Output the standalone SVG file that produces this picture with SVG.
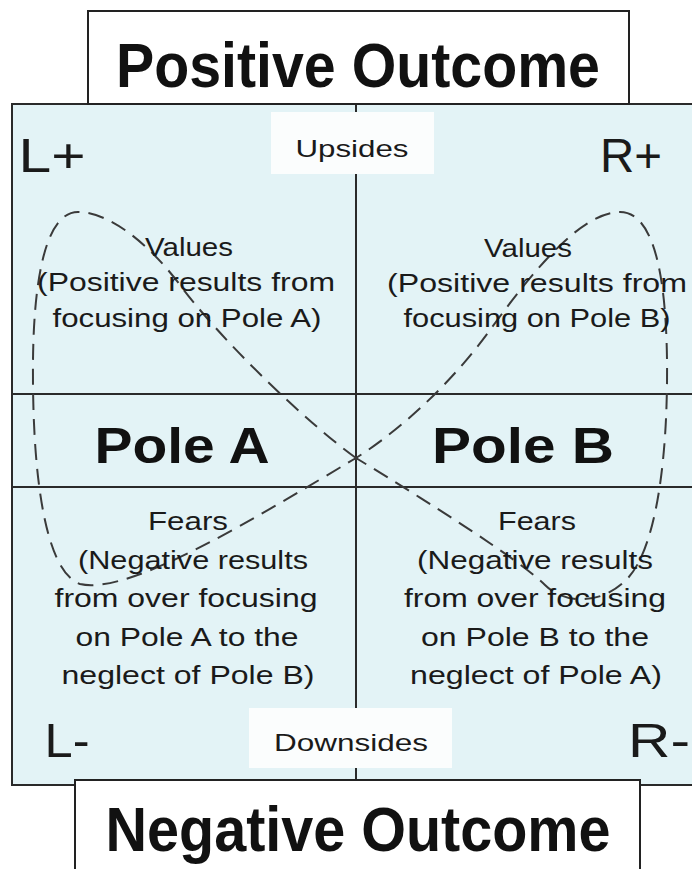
<svg xmlns="http://www.w3.org/2000/svg" width="692" height="869" viewBox="0 0 692 869">
<style>
.t{font-family:"Liberation Sans",Arial,sans-serif;fill:#1a1a1a;text-anchor:middle}
.b{font-weight:bold;fill:#111}
.ln{stroke:#2a2a2a;stroke-width:2;fill:none}
.box{fill:#fff;stroke:#222;stroke-width:2}
.lbl{fill:#fbfdfd;stroke:none}
.loop{fill:none;stroke:#3a3a3a;stroke-width:2;stroke-dasharray:16 9}
</style>
<rect width="692" height="869" fill="#fff"/>
<g id="panel">
<rect x="12" y="104" width="690" height="681" fill="#e3f3f6" stroke="#2a2a2a" stroke-width="2"/>
</g>
<g id="connectors">
<line class="ln" x1="356" y1="104" x2="356" y2="780" stroke-width="2.3"/>
<line class="ln" x1="12" y1="394" x2="692" y2="394" stroke-width="2.6"/>
<line class="ln" x1="12" y1="487" x2="692" y2="487" stroke-width="2.6"/>
<path class="loop" d="M356 458 C310 425 225 345 180 285 C150 245 110 212 78 212 C48 212 34 270 33 360 C32 460 42 570 80 584 C130 596 260 515 356 458 C400 430 450 385 490 330 C530 275 580 212 620 212 C655 212 666 280 667 360 C668 450 658 545 628 578 C603 605 565 605 545 585 C520 560 425 500 356 458 Z"/>
</g>
<g id="top-box">
<rect class="box" x="88" y="11" width="541" height="93"/>
<text class="t b" x="358" y="87" font-size="63" textLength="484" lengthAdjust="spacingAndGlyphs">Positive Outcome</text>
</g>
<g id="bottom-box">
<rect class="box" x="75" y="780" width="565" height="100"/>
<text class="t b" x="358" y="851" font-size="63" textLength="505" lengthAdjust="spacingAndGlyphs">Negative Outcome</text>
</g>
<g id="upsides">
<rect class="lbl" x="271" y="112" width="163" height="62"/>
<text class="t" x="352" y="157" font-size="24" textLength="113" lengthAdjust="spacingAndGlyphs">Upsides</text>
</g>
<g id="downsides">
<rect class="lbl" x="249" y="708" width="203" height="60"/>
<text class="t" x="351" y="751" font-size="24" textLength="154" lengthAdjust="spacingAndGlyphs">Downsides</text>
</g>
<g id="corners">
<text class="t" x="52" y="172" font-size="48" textLength="67" lengthAdjust="spacingAndGlyphs">L+</text>
<text class="t" x="631" y="172" font-size="48" textLength="62" lengthAdjust="spacingAndGlyphs">R+</text>
<text class="t" x="67" y="757" font-size="48" textLength="45" lengthAdjust="spacingAndGlyphs">L-</text>
<text class="t" x="659" y="757" font-size="48" textLength="62" lengthAdjust="spacingAndGlyphs">R-</text>
</g>
<g id="values-a">
<text class="t" x="189" y="256" font-size="25" textLength="88" lengthAdjust="spacingAndGlyphs">Values</text>
<text class="t" x="186" y="291" font-size="25" textLength="298" lengthAdjust="spacingAndGlyphs">(Positive results from</text>
<text class="t" x="187" y="327" font-size="25" textLength="269" lengthAdjust="spacingAndGlyphs">focusing on Pole A)</text>
</g>
<g id="values-b">
<text class="t" x="528" y="257" font-size="25" textLength="88" lengthAdjust="spacingAndGlyphs">Values</text>
<text class="t" x="537" y="292" font-size="25" textLength="300" lengthAdjust="spacingAndGlyphs">(Positive results from</text>
<text class="t" x="537" y="327" font-size="25" textLength="267" lengthAdjust="spacingAndGlyphs">focusing on Pole B)</text>
</g>
<g id="pole-a">
<text class="t b" x="182" y="463" font-size="50" textLength="175" lengthAdjust="spacingAndGlyphs">Pole A</text>
</g>
<g id="pole-b">
<text class="t b" x="523" y="463" font-size="50" textLength="182" lengthAdjust="spacingAndGlyphs">Pole B</text>
</g>
<g id="fears-a">
<text class="t" x="188" y="530" font-size="25" textLength="80" lengthAdjust="spacingAndGlyphs">Fears</text>
<text class="t" x="193" y="569" font-size="25" textLength="230" lengthAdjust="spacingAndGlyphs">(Negative results</text>
<text class="t" x="186" y="607" font-size="25" textLength="263" lengthAdjust="spacingAndGlyphs">from over focusing</text>
<text class="t" x="187" y="646" font-size="25" textLength="223" lengthAdjust="spacingAndGlyphs">on Pole A to the</text>
<text class="t" x="188" y="684" font-size="25" textLength="253" lengthAdjust="spacingAndGlyphs">neglect of Pole B)</text>
</g>
<g id="fears-b">
<text class="t" x="537" y="530" font-size="25" textLength="78" lengthAdjust="spacingAndGlyphs">Fears</text>
<text class="t" x="535" y="569" font-size="25" textLength="236" lengthAdjust="spacingAndGlyphs">(Negative results</text>
<text class="t" x="535" y="607" font-size="25" textLength="262" lengthAdjust="spacingAndGlyphs">from over focusing</text>
<text class="t" x="535" y="646" font-size="25" textLength="228" lengthAdjust="spacingAndGlyphs">on Pole B to the</text>
<text class="t" x="536" y="684" font-size="25" textLength="252" lengthAdjust="spacingAndGlyphs">neglect of Pole A)</text>
</g>
</svg>
